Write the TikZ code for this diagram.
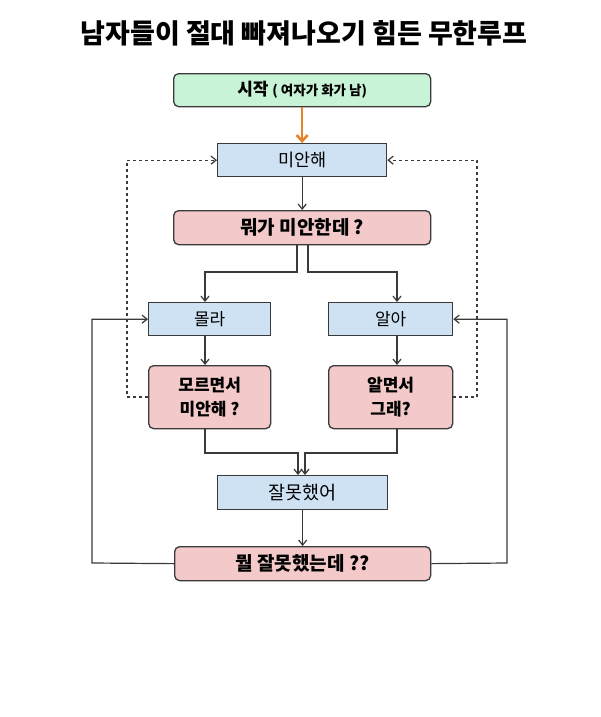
\documentclass[tikz,border=0pt]{standalone}
\usepackage{fontspec}
\setmainfont{Noto Sans CJK KR}
\usetikzlibrary{arrows.meta}
\definecolor{gfill}{HTML}{C9F3D6}
\definecolor{bfill}{HTML}{CFE2F3}
\definecolor{pfill}{HTML}{F3C9C9}
\definecolor{edge}{HTML}{3A3A3A}
\definecolor{orng}{HTML}{E8822A}
\tikzset{
  box/.style={draw=edge, line width=1.3pt, anchor=north west, inner sep=0pt, align=center},
  bluebox/.style={box, fill=bfill, font=\fontsize{17.5}{20}\selectfont},
  pinkbox/.style={box, fill=pfill, rounded corners=5pt, font=\bfseries\fontsize{19}{22}\selectfont},
  conn/.style={draw=edge, line width=1.2pt, -{Straight Barb[length=5pt,width=8pt]}},
  dconn/.style={conn, dashed, dash pattern=on 3pt off 3pt},
}
\begin{document}
\begin{tikzpicture}[x=1pt,y=-1pt]
\useasboundingbox (0,0) rectangle (600,717);
\fill[white] (0,0) rectangle (600,717);
\node[font=\bfseries\fontsize{27}{30}\selectfont] (title) at (304,33) {남자들이 절대 빠져나오기 힘든 무한루프};
\node[box, fill=gfill, rounded corners=5pt, minimum width=257pt, minimum height=33pt] (start) at (173,73)
  {\bfseries\fontsize{17}{19}\selectfont 시작 {\fontsize{13.5}{15}\selectfont( 여자가 화가 남)}};
\node[bluebox, minimum width=169pt, minimum height=33pt] (sorry) at (217,143) {미안해};
\node[pinkbox, minimum width=257pt, minimum height=34pt] (what) at (173,210) {뭐가 미안한데 ?};
\node[bluebox, font=\fontsize{17}{20}\selectfont, minimum width=122pt, minimum height=33pt] (dunno) at (148,302) {몰라};
\node[bluebox, font=\fontsize{17}{20}\selectfont, minimum width=124pt, minimum height=33pt] (know) at (328,302) {알아};
\node[pinkbox, font=\bfseries\fontsize{17}{24}\selectfont, minimum width=122pt, minimum height=63pt] (dq) at (148,365) {모르면서\\미안해 ?};
\node[pinkbox, font=\bfseries\fontsize{17}{24}\selectfont, minimum width=124pt, minimum height=63pt] (kq) at (328,365) {알면서\\그래?};
\node[bluebox, font=\fontsize{18.5}{20}\selectfont, minimum width=170pt, minimum height=34pt] (wrong) at (217,475) {잘못했어};
\node[pinkbox, minimum width=256pt, minimum height=34pt] (wq) at (174,546) {뭘 잘못했는데 ??};

\draw[draw=orng, line width=2.6pt, -{Straight Barb[length=6pt,width=11pt]}] (start.south) -- (sorry.north);
\draw[conn] (sorry.south) -- (what.north);
\draw[conn] (what.south -| 297,0) |- (205,272) -- (dunno.north -| 205,0);
\draw[conn] (what.south -| 308,0) |- (397,272) -- (know.north -| 397,0);
\draw[conn] (dunno.south -| 205,0) -- (dq.north -| 205,0);
\draw[conn] (know.south -| 397,0) -- (kq.north -| 397,0);
\draw[dconn] (dq.west |- 0,397) -- (127,397) |- (sorry.west);
\draw[dconn] (kq.east |- 0,397) -- (477,397) |- (sorry.east);
\draw[conn] (dq.south -| 205,0) |- (298,453) -- (wrong.north -| 298,0);
\draw[conn] (kq.south -| 397,0) |- (305,453) -- (wrong.north -| 305,0);
\draw[conn] (wrong.south) -- (wq.north -| wrong.south);
\draw[conn] (wq.west) -- (92,563) |- (dunno.west);
\draw[conn] (wq.east) -- (507,563) |- (know.east);
\end{tikzpicture}
\end{document}
